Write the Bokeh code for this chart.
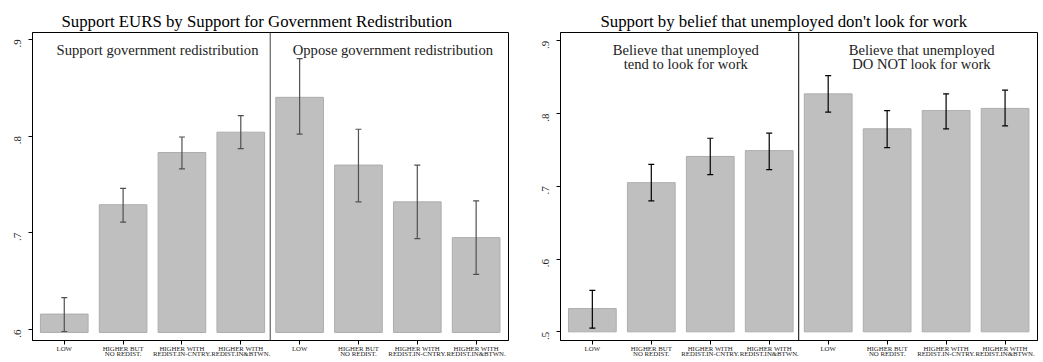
import math
from bokeh.plotting import figure
from bokeh.models import (Range1d, FixedTicker, Span, Label, Whisker, TeeHead,
                          ColumnDataSource)
from bokeh.layouts import row
from bokeh.embed import file_html
from bokeh.resources import INLINE

# ---------------- data ----------------
categories = ["LOW", "HIGHER BUT\nNO REDIST.", "HIGHER WITH\nREDIST.IN-CNTRY.",
              "HIGHER WITH\nREDIST.IN&BTWN."]
tick_labels = categories + categories

left_title = "Support EURS by Support for Government Redistribution"
left_groups = ["Support government redistribution", "Oppose government redistribution"]
left_mean = [0.616, 0.729, 0.783, 0.804, 0.840, 0.770, 0.732, 0.695]
left_upper = [0.633, 0.746, 0.799, 0.821, 0.880, 0.807, 0.770, 0.733]
left_lower = [0.598, 0.711, 0.766, 0.787, 0.802, 0.732, 0.694, 0.657]
left_yticks = [0.6, 0.7, 0.8, 0.9]
left_yticklabels = [".6", ".7", ".8", ".9"]

right_title = "Support by belief that unemployed don't look for work"
right_groups = ["Believe that unemployed\ntend to look for work",
                "Believe that unemployed\nDO NOT look for work"]
right_mean = [0.532, 0.705, 0.741, 0.749, 0.827, 0.779, 0.804, 0.807]
right_upper = [0.557, 0.730, 0.766, 0.773, 0.852, 0.804, 0.827, 0.832]
right_lower = [0.505, 0.680, 0.716, 0.723, 0.802, 0.753, 0.779, 0.783]
right_yticks = [0.5, 0.6, 0.7, 0.8, 0.9]
right_yticklabels = [".5", ".6", ".7", ".8", ".9"]

SERIF = "Liberation Serif"


def make_panel(title, groups, mean, upper, lower, yticks, yticklabels,
               y_start, y_end, base, err_color, div_color, width, border_left,
               border_right, title_offset):
    xs = list(range(len(mean)))
    p = figure(width=width, height=360, output_backend="svg", toolbar_location=None,
               x_range=Range1d(-0.54, 7.55), y_range=Range1d(y_start, y_end),
               min_border_left=border_left, min_border_right=border_right,
               min_border_top=32, min_border_bottom=0)
    p.title.text = title
    p.title.text_font = SERIF
    p.title.text_font_size = "16.8px"
    p.title.text_font_style = "normal"
    p.title.text_color = "black"
    p.title.align = "left"
    p.title.standoff = 4
    p.title.offset = title_offset
    p.grid.visible = False
    p.outline_line_color = "black"
    p.outline_line_alpha = 1
    p.background_fill_color = "white"
    p.border_fill_color = "white"

    src = ColumnDataSource(dict(x=xs, top=mean, upper=upper, lower=lower))
    p.vbar(x="x", top="top", bottom=base, width=0.81, source=src,
           fill_color="#bfbfbf", line_color="#adadad", line_width=1)
    w = Whisker(base="x", upper="upper", lower="lower", source=src,
                line_color=err_color, line_width=1.2, level="overlay",
                upper_head=TeeHead(size=6, line_color=err_color, line_width=1.2),
                lower_head=TeeHead(size=6, line_color=err_color, line_width=1.2))
    p.add_layout(w)

    p.add_layout(Span(location=3.5, dimension="height", line_color=div_color,
                      line_width=1))

    # group labels
    for gx, txt in zip([1.5, 5.5], groups):
        lab = Label(x=gx, y=y_end, x_offset=5, y_offset=-9, text=txt,
                    text_align="center", text_baseline="top", text_font=SERIF,
                    text_font_size="14.6px", text_color="#222222",
                    text_line_height=0.9)
        p.add_layout(lab)

    # axes
    p.xaxis.ticker = FixedTicker(ticks=xs)
    p.xaxis.major_label_overrides = {i: t for i, t in zip(xs, tick_labels)}
    p.xaxis.major_label_text_font = SERIF
    p.xaxis.major_label_text_font_size = "6.8px"
    p.xaxis.major_label_text_color = "#222222"
    p.xaxis.major_label_text_line_height = 0.85
    p.xaxis.major_label_standoff = 0
    p.xaxis.axis_label_standoff = 0
    p.xaxis.major_tick_out = 4
    p.xaxis.major_tick_in = 0
    p.xaxis.minor_tick_out = 0
    p.xaxis.minor_tick_in = 0
    p.xaxis.axis_line_color = "black"

    p.yaxis.ticker = FixedTicker(ticks=yticks)
    p.yaxis.major_label_overrides = {t: l for t, l in zip(yticks, yticklabels)}
    p.yaxis.major_label_orientation = math.pi / 2
    p.yaxis.major_label_text_font = SERIF
    p.yaxis.major_label_text_font_size = "11px"
    p.yaxis.major_label_text_color = "#222222"
    p.yaxis.major_label_standoff = 11
    p.yaxis.major_tick_out = 4
    p.yaxis.major_tick_in = 0
    p.yaxis.minor_tick_out = 0
    p.yaxis.minor_tick_in = 0
    p.yaxis.axis_line_color = "black"
    return p


p1 = make_panel(left_title, left_groups, left_mean, left_upper, left_lower,
                left_yticks, left_yticklabels, 0.5887, 0.907, 0.597,
                "#505050", "#444444", 527, 32, 19, 29)
p2 = make_panel(right_title, right_groups, right_mean, right_upper, right_lower,
                right_yticks, right_yticklabels, 0.4881, 0.9113, 0.5,
                "black", "black", 514, 33, 4, 40)

layout = row(p1, p2, spacing=0)
open("out.html", "w").write(file_html(layout, INLINE))
